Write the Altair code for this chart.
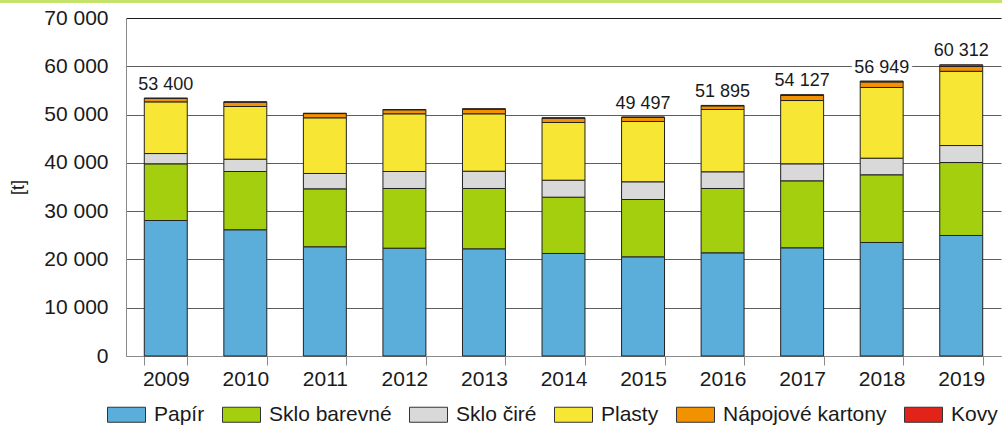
import altair as alt
import pandas as pd

# Separated municipal waste components per year [t]
years = ["2009", "2010", "2011", "2012", "2013", "2014", "2015", "2016", "2017", "2018", "2019"]
papir = [28060, 26140, 22620, 22330, 22200, 21230, 20540, 21370, 22410, 23510, 24960]
sklo_barevne = [11740, 12070, 12000, 12360, 12490, 11660, 11870, 13320, 13870, 14020, 15110]
sklo_cire = [2130, 2550, 3180, 3520, 3580, 3520, 3670, 3460, 3520, 3440, 3520]
plasty = [10700, 10910, 11530, 11950, 11890, 11950, 12490, 12900, 13110, 14640, 15372]
napojove_kartony = [720, 900, 880, 830, 960, 900, 850, 760, 1060, 1150, 1000]
kovy = [50, 70, 70, 60, 70, 70, 77, 85, 157, 189, 350]

categories = ["Papír", "Sklo barevné", "Sklo čiré", "Plasty", "Nápojové kartony", "Kovy"]
colors = ["#5BADDA", "#A3CF0E", "#D9D9D9", "#F8E634", "#F39200", "#E2231A"]
labelled_years = ["2009", "2015", "2016", "2017", "2018", "2019"]
y_ticks = [0, 10000, 20000, 30000, 40000, 50000, 60000, 70000]

series = [papir, sklo_barevne, sklo_cire, plasty, napojove_kartony, kovy]

rows = []
for ci, (cat, vals) in enumerate(zip(categories, series)):
    for yr, v in zip(years, vals):
        rows.append({"rok": yr, "druh": cat, "poradi": ci, "t": v})
df = pd.DataFrame(rows)

totals = {yr: sum(s[i] for s in series) for i, yr in enumerate(years)}
lab_df = pd.DataFrame({
    "rok": labelled_years,
    "t": [totals[yr] for yr in labelled_years],
    "text": [f"{totals[yr]:,}".replace(",", " ") for yr in labelled_years],
})

FONT = "Liberation Sans"
TXT = "#1a1a1a"

x_enc = alt.X(
    "rok:N",
    sort=years,
    scale=alt.Scale(paddingInner=0.46, paddingOuter=0.23),
    axis=alt.Axis(
        title=None, labelAngle=0, tickBand="extent", tickSize=9, labelPadding=3,
        labelFontSize=21, labelColor=TXT, domainColor="#8a8a8a", tickColor="#8a8a8a",
        grid=False,
    ),
)

y_enc = alt.Y(
    "t:Q",
    stack="zero",
    scale=alt.Scale(domain=[0, 70000], nice=False),
    axis=alt.Axis(
        title="[t]", values=y_ticks, ticks=False, tickSize=0, labelPadding=18,
        labelFontSize=21, labelColor=TXT,
        labelExpr="replace(format(datum.value, ',d'), regexp(',', 'g'), ' ')",
        domainColor="#8a8a8a",
        gridColor=alt.condition("datum.value === 70000", alt.value("#1a1a1a"), alt.value("#5e5e5e")),
        gridWidth=1,
        titleFontSize=18, titleFontWeight="normal", titleColor=TXT,
        titleX=-108, titleY=169, titleAlign="center", titleBaseline="middle",
    ),
)

bars = alt.Chart(df).mark_bar(stroke="#222222", strokeWidth=1).encode(
    x=x_enc,
    y=y_enc,
    color=alt.Color(
        "druh:N",
        scale=alt.Scale(domain=categories, range=colors),
        legend=alt.Legend(
            title=None, orient="none", direction="horizontal", columns=6,
            legendX=-19, legendY=377,
            symbolType="M-1,-0.395L1,-0.395L1,0.395L-1,0.395Z",
            symbolSize=1444, symbolStrokeColor="#333333", symbolStrokeWidth=1,
            symbolOpacity=1,
            labelFontSize=21, labelColor=TXT, labelOffset=8, labelLimit=300,
            columnPadding=15, padding=0,
        ),
    ),
    order=alt.Order("poradi:Q", sort="ascending"),
)

y_lab = alt.Y("t:Q", stack=None)

halo = alt.Chart(lab_df).mark_text(
    font=FONT, fontSize=18, dy=-8.5, baseline="alphabetic",
    stroke="white", strokeWidth=7, fill="white",
).encode(x=alt.X("rok:N", sort=years), y=y_lab, text="text:N")

labels = alt.Chart(lab_df).mark_text(
    font=FONT, fontSize=18, dy=-8.5, baseline="alphabetic", color=TXT,
).encode(x=alt.X("rok:N", sort=years), y=y_lab, text="text:N")

# thin green band along the top edge of the figure
band = alt.Chart(pd.DataFrame({"a": [0]})).mark_rule(
    color="#C3E36B", strokeWidth=3
).encode(x=alt.value(-126), x2=alt.value(876), y=alt.value(-16.5))

chart = alt.layer(bars, halo, labels, band).properties(
    width=875,
    height=338,
    autosize=alt.AutoSizeParams(type="none"),
    padding={"left": 126, "top": 18, "right": 1, "bottom": 70},
).configure(
    font=FONT,
).configure_view(
    stroke=None,
)

chart.save("out.html", embed_options={"renderer": "svg", "actions": False})
